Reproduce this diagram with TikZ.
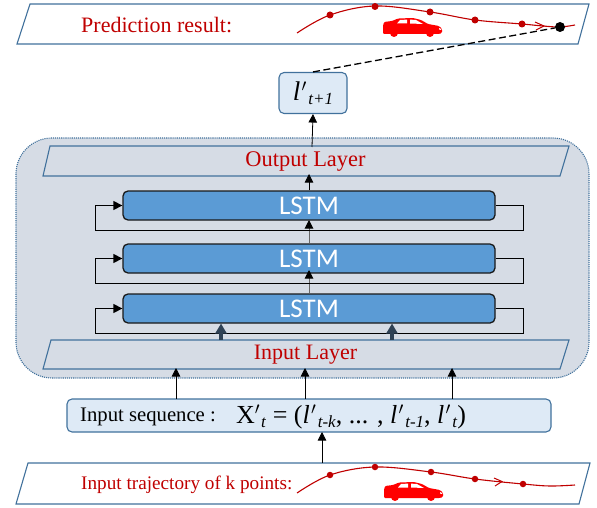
\documentclass[tikz,border=0pt]{standalone}
\usepackage{fontspec}
\setmainfont{Liberation Serif}
\newfontfamily\lstmfont{Carlito}
\usetikzlibrary{arrows.meta,calc}
\definecolor{bandline}{HTML}{41719C}
\definecolor{redtext}{HTML}{C00000}
\definecolor{panel}{HTML}{D6DCE5}
\definecolor{lightbox}{HTML}{DEEAF6}
\definecolor{lstmblue}{HTML}{5B9BD5}
\definecolor{thickarrow}{HTML}{2F4256}
\newcommand{\ltok}[1]{\textit{l}\kern1.2pt$'$\kern1.5pt\raisebox{-4pt}{\fontsize{17}{19}\selectfont\textit{#1}}}
\tikzset{
  x=1pt,y=-1pt,
  band/.style={draw=bandline,line width=1.1pt,fill=white},
  lband/.style={draw=bandline,line width=1.1pt},
  lstmbox/.style={draw=black!90,line width=1.3pt,fill=lstmblue,rounded corners=5pt,text=white,minimum width=372pt,minimum height=29pt,inner sep=0pt,font=\lstmfont\fontsize{27}{29}\selectfont},
  lightnode/.style={draw=bandline,line width=1.1pt,fill=lightbox,rounded corners=5pt,inner sep=0pt},
  redlabel/.style={text=redtext,inner sep=0pt},
  arr/.style={-{Triangle[length=8.5pt,width=8.5pt]},line width=0.8pt,black},
  thickarr/.style={-{Triangle[length=10pt,width=11pt]},line width=3.2pt,thickarrow},
  loopline/.style={line width=1.3pt,draw=black},
  looparr/.style={loopline,-{Triangle[length=9pt,width=9pt]}},
  traj/.style={draw=redtext,line width=1.1pt},
  dot/.style={circle,fill=redtext,inner sep=0pt,minimum size=7pt},
  pics/car/.style={code={
    \fill[red,rounded corners=1.2pt] (0,8) -- (1,4) -- (9,3) -- (15,0.5) -- (30,0) -- (38,2) -- (45,6) -- (56,8) -- (59,11) -- (59,15) -- (56,16) -- (0,16) -- cycle;
    \fill[red] (11,15) circle (4);
    \fill[red] (47,15) circle (4);
    \fill[white] (17,2) -- (24,1.6) -- (24,5.5) -- (14,5.5) -- cycle;
    \fill[white] (27,1.6) -- (33,2) -- (40,6) -- (27,5.5) -- cycle;
    \fill[white] (56,10) -- (58,11) -- (58,12) -- (56,11.5) -- cycle;
  }}
}
\begin{document}
\begin{tikzpicture}
\useasboundingbox (0,0) rectangle (597,508);
% big panel
\draw[draw=bandline,densely dotted,line width=1.1pt,fill=panel,rounded corners=36pt] (16,138) rectangle (589,378);
% top band
\draw[band] (30,4) -- (589,4) -- (578,44) -- (17,44) -- cycle;
\node[redlabel,anchor=west,font=\fontsize{22}{24}\selectfont] (pred) at (81,25) {Prediction result:};
\draw[traj] plot[smooth,tension=0.6] coordinates {(297,33) (330,15) (375,6) (430,12) (475,20) (522,24) (543,26) (560,27) (575,25)};
\draw[traj,line width=1pt] (535,22) -- (544,26) -- (536,30);
\foreach \n/\p in {a/{(330,15)},b/{(375,6.5)},c/{(430,12)},d/{(475,20)},e/{(522,24)}}
  \node[dot] (t\n) at \p {};
\node[circle,fill=black,inner sep=0pt,minimum size=10pt] (tend) at (560,27) {};
\pic at (383,18) {car};
% l' node
\node[lightnode,minimum width=68pt,minimum height=41pt] (lout) at (313,93) {\fontsize{27}{29}\selectfont\ltok{t+1}};
\draw[dash pattern=on 7pt off 3.5pt,line width=1.3pt] (lout.north) -- (tend);
% output layer
\draw[lband] (50,146) -- (569,146) -- (560,176) -- (43,176) -- cycle;
\node[redlabel,font=\fontsize{22.4}{24}\selectfont] (outl) at (305.5,161.5) {Output Layer};
\coordinate (outtop) at (312,147);
\draw[arr] (outtop) -- (lout.south);
% LSTM
\node[lstmbox] (l1) at (309,205.5) {LSTM};
\node[lstmbox] (l2) at (309,258.5) {LSTM};
\node[lstmbox] (l3) at (309,308.5) {LSTM};
\draw[arr] (l1.north) -- (309,174);
\draw[line width=1pt,draw=black!60,-{Triangle[length=8.5pt,width=8.5pt,black]}] (l2.north) -- (309,220);
\draw[line width=1pt,draw=black!60,-{Triangle[length=8.5pt,width=8.5pt,black]}] (l3.north) -- (309,270);
\foreach \b in {l1,l2,l3}{
  \draw[looparr] (\b.east) -- ++(28,0) |- ++(-428,25) |- (\b.west);
}
% input layer
\draw[lband] (51,340) -- (569,340) -- (560,369) -- (43,369) -- cycle;
\node[redlabel,font=\fontsize{22}{24}\selectfont] (inl) at (305.5,355) {Input Layer};
\coordinate (ia) at (221,340);
\coordinate (ib) at (392,340);
\draw[thickarr] (ia) -- (221,323.5);
\draw[thickarr] (ib) -- (392,323.5);
% input sequence
\node[lightnode,minimum width=484pt,minimum height=33pt] (seq) at (309,415.5) {};
\node[anchor=west,inner sep=0pt,font=\fontsize{20.7}{24}\selectfont] (seqtxt) at (80,417) {Input sequence :};
\node[anchor=west,inner sep=0pt,font=\fontsize{26}{28}\selectfont] (seqmath) at (236,417) {X$'$\kern1pt\raisebox{-4pt}{\fontsize{17}{19}\selectfont\textit{t}} = (\ltok{t-k}, ... , \ltok{t-1}, \ltok{t})};
\foreach \x in {176,305,452}{
  \coordinate (s\x) at (\x,399);
  \draw[arr] (s\x) -- (\x,368);
}
% bottom band
\draw[band] (28,463) -- (590,463) -- (579,504) -- (16,504) -- cycle;
\node[redlabel,anchor=west,font=\fontsize{19.2}{21}\selectfont] (intr) at (81,485) {Input trajectory of k points:};
\coordinate (bandtop) at (322,463);
\draw[arr] (bandtop) -- (322,432);
\draw[traj] plot[smooth,tension=0.6] coordinates {(297,493) (330,475) (375,467) (431,472) (475,479) (523,484) (550,486) (575,485)};
\draw[traj,line width=1pt] (494,478) -- (502,481.5) -- (495,486);
\foreach \n/\p in {a/{(330,475)},b/{(375,467)},c/{(431,472)},d/{(475,479)},e/{(523,484)}}
  \node[dot,minimum size=6.5pt] (i\n) at \p {};
\pic at (384,482) {car};
\end{tikzpicture}
\end{document}
